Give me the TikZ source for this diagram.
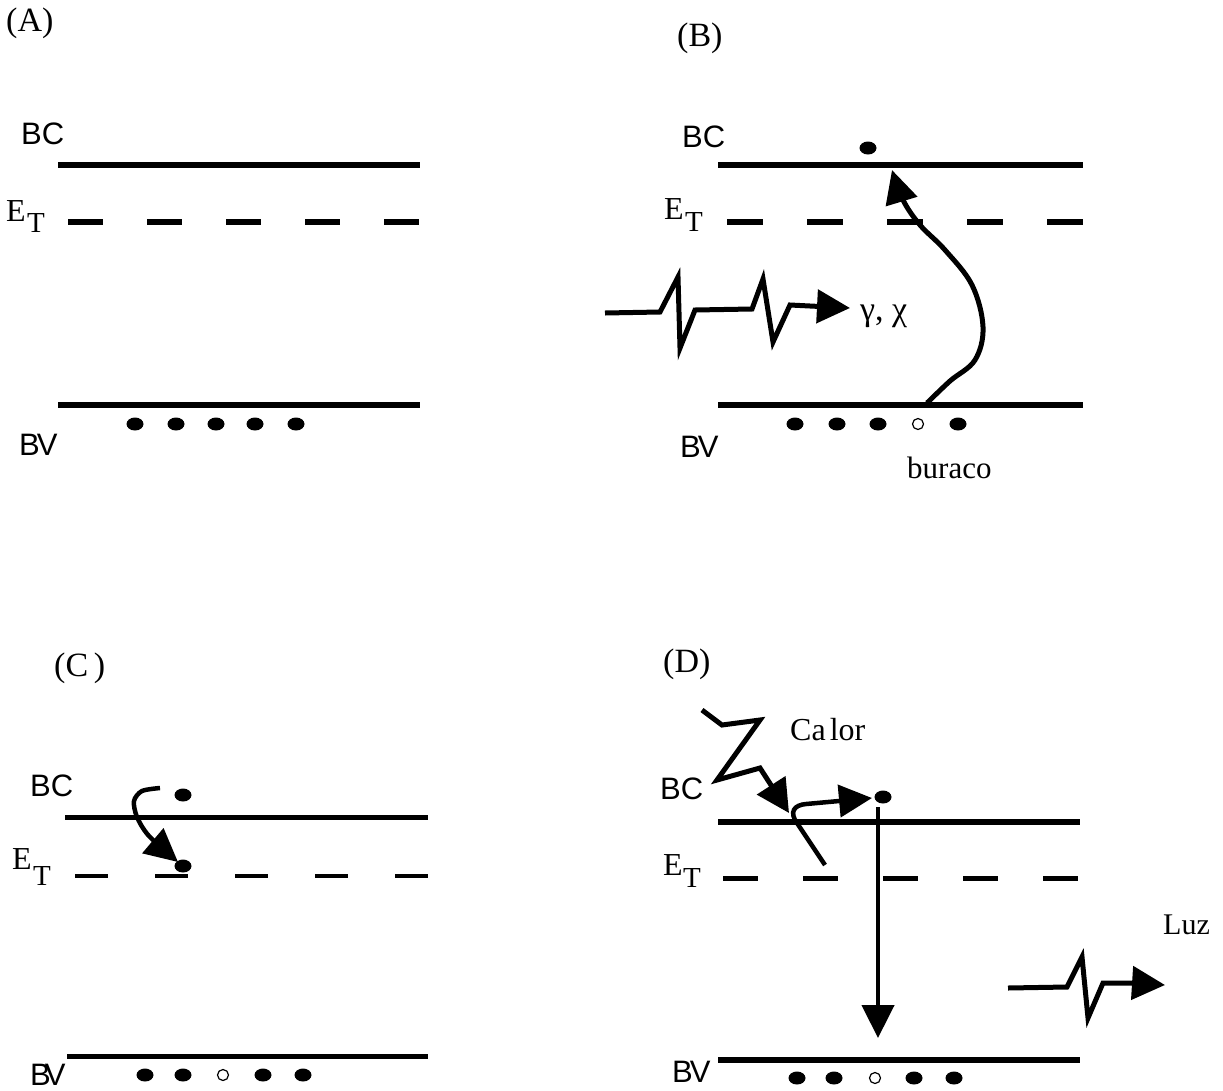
\documentclass[tikz,border=0pt]{standalone}
\usepackage{fontspec}
\setmainfont{Liberation Serif}
\setsansfont{Liberation Sans}
\usetikzlibrary{arrows.meta,shapes.geometric}
\begin{document}
\begin{tikzpicture}[x=1pt,y=-1pt,
 band/.style={line width=6pt},
 trap/.style={line width=6pt, dash pattern=on 35pt off 44pt},
 edot/.style={ellipse, fill=black, minimum width=17pt, minimum height=13pt, inner sep=0pt},
 hdot/.style={circle, draw=black, line width=1.2pt, fill=white, minimum size=11pt, inner sep=0pt},
 lab/.style={font=\sffamily\fontsize{31}{31}\selectfont, inner sep=0pt, anchor=west},
 slab/.style={font=\fontsize{30}{30}\selectfont, inner sep=0pt, anchor=west},
 plab/.style={font=\fontsize{34}{34}\selectfont, inner sep=0pt, anchor=west},
 elab/.style={font=\fontsize{32}{32}\selectfont, inner sep=0pt, anchor=west},
 tlab/.style={font=\fontsize{29}{29}\selectfont, inner sep=0pt, anchor=west},
 arr/.style={line width=4.5pt, -{Triangle[length=33pt,width=32pt]}},
 wave/.style={line width=5pt, -{Triangle[length=33pt,width=33pt]}}
]
\useasboundingbox (0,0) rectangle (1223,1090);

% ---------------- Panel A ----------------
\node[plab] (Alab) at (6,23) {(A)};
\node[lab] (Abc) at (21,134) {BC};
\node[lab] (Abv) at (19,445) {B\kern-3pt V};
\node[elab] (AE) at (6,211) {E};
\node[tlab] (AT) at (27,223) {T};
\coordinate (Abcl) at (58,165); \coordinate (Abcr) at (420,165);
\coordinate (Aetl) at (68,222); \coordinate (Aetr) at (420,222);
\coordinate (Abvl) at (58,405); \coordinate (Abvr) at (420,405);
\draw[band] (Abcl) -- (Abcr);
\draw[trap] (Aetl) -- (Aetr);
\draw[band] (Abvl) -- (Abvr);
\foreach \x [count=\i] in {135,176,216,255,296}
  \node[edot] (Ad\i) at (\x,424) {};

% ---------------- Panel B ----------------
\node[plab] (Blab) at (677,38) {(B)};
\node[lab] (Bbc) at (682,137) {BC};
\node[lab] (Bbv) at (680,447) {B\kern-3pt V};
\node[elab] (BE) at (664,209) {E};
\node[tlab] (BT) at (685,222) {T};
\coordinate (Bbcl) at (718,165); \coordinate (Bbcr) at (1083,165);
\coordinate (Betl) at (727,222); \coordinate (Betr) at (1085,222);
\coordinate (Bbvl) at (718,405); \coordinate (Bbvr) at (1083,405);
\draw[band] (Bbcl) -- (Bbcr);
\draw[band, dash pattern=on 36pt off 44pt] (Betl) -- (Betr);
\draw[band] (Bbvl) -- (Bbvr);
\node[edot] (Be0) at (868,148) {};
\node[edot] (Bd1) at (795,424) {};
\node[edot] (Bd2) at (837,424) {};
\node[edot] (Bd3) at (878,424) {};
\node[hdot] (Bh) at (918,424) {};
\node[edot] (Bd5) at (958,424) {};
\node[slab, anchor=base west, font=\fontsize{31}{31}\selectfont] (Bbur) at (907,478) {buraco};
\node[slab, anchor=base west, font=\fontsize{34}{34}\selectfont] (Bgam) at (860,320) {γ, χ};
\coordinate (Bw0) at (605,313); \coordinate (Bw1) at (850,308);
\draw[wave] (Bw0) -- (660,312) -- (678,277) -- (680,348) -- (695,310) -- (752,309)
  -- (763,279) -- (773,342) -- (790,305) -- (Bw1);
\coordinate (Bc0) at (927,403); \coordinate (Bc1) at (892,170);
\draw[arr, line width=5pt] plot[smooth, tension=0.6] coordinates {(Bc0) (950,381) (975,360) (983,327) (972,285) (945,250) (920,225) (903,200) (Bc1)};

% ---------------- Panel C ----------------
\node[plab] (Clab) at (54,668) {(C\,)};
\node[lab] (Cbc) at (30,786) {BC};
\node[lab] (Cbv) at (30,1075) {B\kern-6pt V};
\node[elab] (CE) at (12,859) {E};
\node[tlab] (CT) at (33,876) {T};
\coordinate (Cbcl) at (65,817); \coordinate (Cbcr) at (428,817);
\coordinate (Cetl) at (75,876); \coordinate (Cetr) at (430,876);
\coordinate (Cbvl) at (67,1056); \coordinate (Cbvr) at (428,1056);
\draw[band, line width=5pt] (Cbcl) -- (Cbcr);
\draw[line width=4pt, dash pattern=on 33pt off 47pt] (Cetl) -- (Cetr);
\draw[band, line width=5pt] (Cbvl) -- (Cbvr);
\node[edot] (Ce0) at (183,795) {};
\node[edot] (Ce1) at (183,866) {};
\node[edot] (Cd1) at (145,1075) {};
\node[edot] (Cd2) at (183,1075) {};
\node[hdot] (Ch) at (223,1075) {};
\node[edot] (Cd4) at (263,1075) {};
\node[edot] (Cd5) at (303,1075) {};
\coordinate (Cc0) at (160,788); \coordinate (Cc1) at (178,862);
\draw[arr] plot[smooth, tension=0.5] coordinates {(Cc0) (142,791) (134,801) (137,817) (149,836) (Cc1)};

% ---------------- Panel D ----------------
\node[plab] (Dlab) at (663,664) {(D)};
\node[slab, font=\fontsize{32}{32}\selectfont] (Dcal) at (790,730) {Ca\kern4pt lor};
\node[slab] (Dluz) at (1163,925) {Luz};
\node[lab] (Dbc) at (660,789) {BC};
\node[lab] (Dbv) at (672,1072) {B\kern-3pt V};
\node[elab] (DE) at (663,865) {E};
\node[tlab] (DT) at (683,878) {T};
\coordinate (Dbcl) at (718,822); \coordinate (Dbcr) at (1080,822);
\coordinate (Detl) at (723,878); \coordinate (Detr) at (1078,878);
\coordinate (Dbvl) at (718,1060); \coordinate (Dbvr) at (1080,1060);
\draw[band] (Dbcl) -- (Dbcr);
\draw[line width=5pt, dash pattern=on 35pt off 45pt] (Detl) -- (Detr);
\draw[band] (Dbvl) -- (Dbvr);
\node[edot] (De0) at (883,797) {};
\node[edot] (Dd1) at (797,1078) {};
\node[edot] (Dd2) at (834,1078) {};
\node[hdot] (Dh) at (875,1078) {};
\node[edot] (Dd4) at (914,1078) {};
\node[edot] (Dd5) at (954,1078) {};
% heat zigzag
\coordinate (Dz0) at (702,710); \coordinate (Dz1) at (789,813);
\draw[wave] (Dz0) -- (722,725) -- (760,720) -- (717,780) -- (760,768) -- (Dz1);
% curved jump
\coordinate (Dc0) at (825,865); \coordinate (Dc1) at (872,798);
\draw[arr] (Dc0) -- (797,823) .. controls (789,812) and (794,805) .. (806,804) -- (Dc1);
% vertical recombination
\coordinate (Dv0) at (878,807); \coordinate (Dv1) at (878,1038);
\draw[arr] (Dv0) -- (Dv1);
% light
\coordinate (Dl0) at (1008,988); \coordinate (Dl1) at (1165,985);
\draw[wave] (Dl0) -- (1067,987) -- (1082,957) -- (1088,1018) -- (1103,983) -- (1133,983) -- (Dl1);
\end{tikzpicture}
\end{document}
